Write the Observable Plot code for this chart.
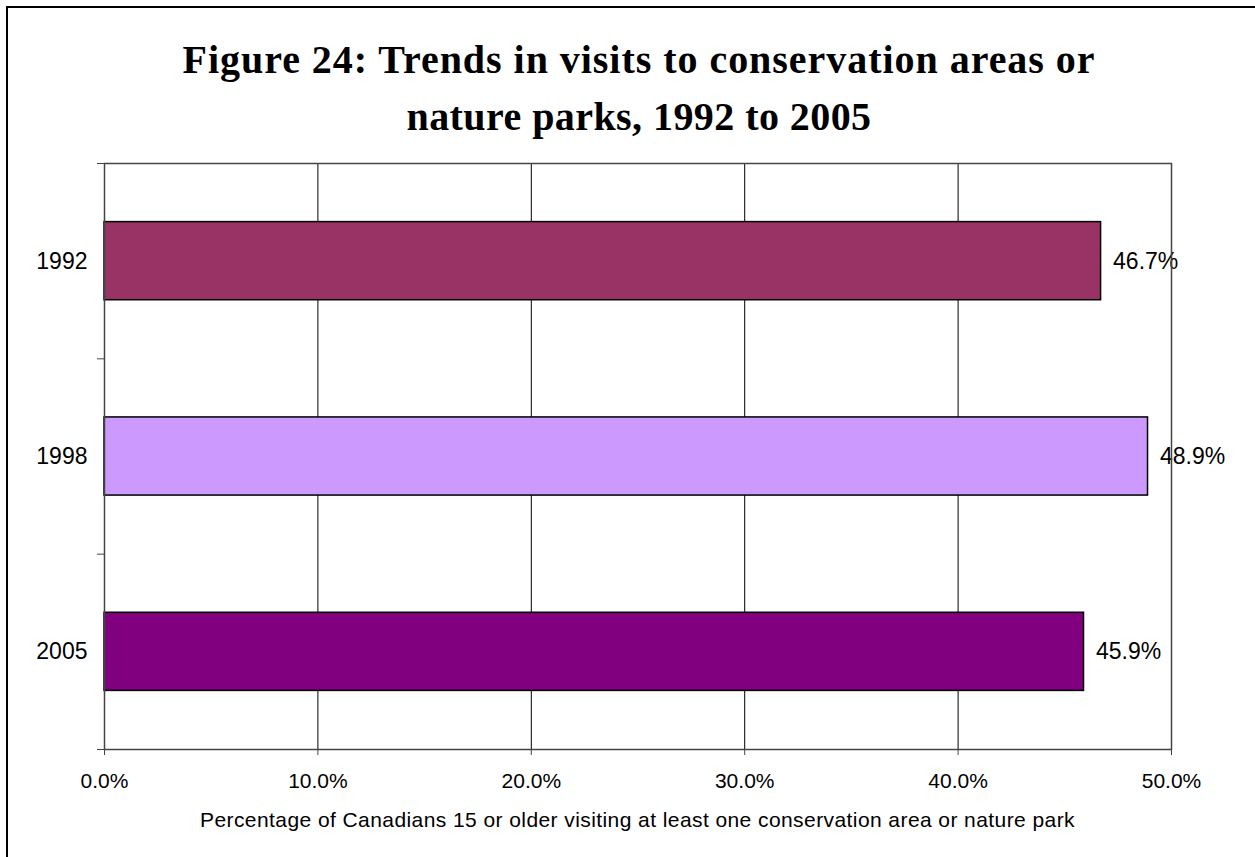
<!DOCTYPE html>
<html>
<head>
<meta charset="utf-8">
<script src="https://cdn.jsdelivr.net/npm/d3@7"></script>
<script src="https://cdn.jsdelivr.net/npm/@observablehq/plot@0.6"></script>
<style>
  html, body { margin: 0; padding: 0; background: #fff; }
  #wrap { position: relative; width: 1255px; height: 857px; overflow: hidden; background: #fff; }
  #frame { position: absolute; left: 6px; top: 6px; width: 1400px; height: 1000px;
           border-left: 2px solid #000; border-top: 2px solid #000; }
  #title { position: absolute; left: 0; width: 1278px; top: 31px; text-align: center;
           font: bold 40px "Liberation Serif", "DejaVu Serif", serif; line-height: 57px; color: #000;
           white-space: nowrap; }
  #chart { position: absolute; left: 0; top: 0; }
  #xlabel { position: absolute; left: 0; width: 1275px; top: 808px; text-align: center;
            font: 21px "Liberation Sans", Arial, sans-serif; color: #000; white-space: nowrap; }
  .line { display: inline-block; }
</style>
</head>
<body>
<div id="wrap">
  <div id="chart"></div>
  <div id="frame"></div>
  <div id="title"><span class="line" id="t1">Figure 24: Trends in visits to conservation areas or</span><br><span class="line" id="t2">nature parks, 1992 to 2005</span></div>
  <div id="xlabel"><span class="line" id="xl">Percentage of Canadians 15 or older visiting at least one conservation area or nature park</span></div>
</div>
<script>
const years = ["1992", "1998", "2005"];
const values = [46.7, 48.9, 45.9];
const barColors = ["#993366", "#CC99FF", "#800080"];
const xTicks = [0, 10, 20, 30, 40, 50];

const rows = years.map((year, i) => ({year, value: values[i], i}));

const chart = Plot.plot({
  width: 1255,
  height: 857,
  marginLeft: 104,
  marginRight: 84,
  marginTop: 163,
  marginBottom: 108,
  style: {fontFamily: "'Liberation Sans', Arial, sans-serif", color: "#000", background: "transparent"},
  x: {domain: [0, 50]},
  y: {domain: [0, 3], reverse: true},
  color: {domain: years, range: barColors},
  marks: [
    Plot.gridX(xTicks, {stroke: "#000", strokeOpacity: 1, strokeWidth: 1}),
    Plot.rect(rows, {
      x1: 0, x2: "value",
      y1: d => d.i + 0.3, y2: d => d.i + 0.7,
      fill: "year", stroke: "#000", strokeWidth: 1.5
    }),
    Plot.text(rows, {
      x: "value", y: d => d.i + 0.5,
      text: d => d.value.toFixed(1) + "%",
      textAnchor: "start", dx: 12, fontSize: 23, fill: "#000"
    }),
    Plot.frame({stroke: "#444", strokeWidth: 1.5}),
    Plot.axisX({
      ticks: xTicks, tickFormat: d => d.toFixed(1) + "%",
      tickSize: 6, tickPadding: 18, fontSize: 21, label: null, stroke: "#444"
    }),
    Plot.axisY({
      ticks: years.map((_, i) => i + 0.5),
      tickFormat: d => years[Math.round(d - 0.5)],
      tickSize: 0, tickPadding: 17, fontSize: 23, label: null
    }),
    Plot.axisY({
      ticks: [0, 1, 2, 3], tickFormat: () => "",
      tickSize: 7, tickPadding: 0, label: null, stroke: "#444"
    })
  ]
});
document.getElementById("chart").appendChild(chart);

// fit title line widths to the reference by letter-spacing
function fit(id, target) {
  const el = document.getElementById(id);
  const w = el.getBoundingClientRect().width;
  const n = el.textContent.length;
  el.style.letterSpacing = ((target - w) / n) + "px";
}
fit("t1", 913);
fit("t2", 465);
fit("xl", 875);
</script>
</body>
</html>
